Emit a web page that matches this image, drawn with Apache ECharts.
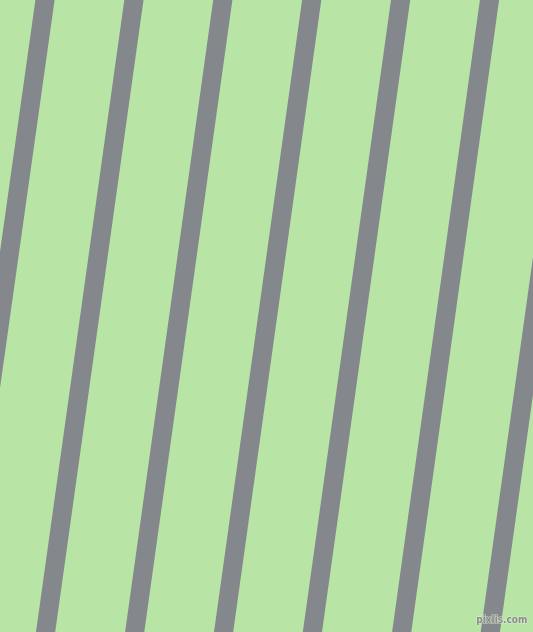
<!DOCTYPE html>
<html>
<head>
<meta charset="utf-8">
<style>
html,body{margin:0;padding:0;background:#b8e4a6;}
#chart{width:533px;height:632px;}
</style>
<script src="https://cdn.jsdelivr.net/npm/echarts@6/dist/echarts.min.js"></script>
</head>
<body>
<div id="chart"></div>
<script>
// Stripe centre x positions read at the top edge (y = 0) and bottom edge (y = 632)
var stripeTopX = [-43.9, 45.0, 133.9, 222.8, 311.7, 400.6, 489.5, 578.4];
var stripeBottomX = [-132.8, -43.9, 45.6, 134.7, 223.6, 312.4, 401.7, 490.3];
var imageHeight = 632;
var imageWidth = 533;

var chart = echarts.init(document.getElementById('chart'), null, {renderer: 'canvas'});
var ext = 40;
var series = stripeTopX.map(function (tx, i) {
  var bx = stripeBottomX[i];
  var slope = (bx - tx) / imageHeight;
  return {
    type: 'line',
    silent: true,
    symbol: 'none',
    clip: true,
    animation: false,
    lineStyle: {color: '#84878b', width: 19, cap: 'butt'},
    data: [[tx - slope * ext, -ext], [bx + slope * ext, imageHeight + ext]]
  };
});

chart.setOption({
  backgroundColor: '#b8e4a6',
  animation: false,
  grid: {left: 0, right: 0, top: 0, bottom: 0},
  xAxis: {type: 'value', min: 0, max: imageWidth, show: false},
  yAxis: {type: 'value', min: 0, max: imageHeight, inverse: true, show: false},
  graphic: [{
    type: 'text',
    right: 5,
    bottom: 6,
    z: 100,
    style: {
      text: 'pixlis.com',
      font: 'bold 10px "DejaVu Sans Condensed", "DejaVu Sans", sans-serif',
      fill: '#8a8e8a',
      stroke: 'rgba(225,235,220,0.8)',
      lineWidth: 1.2
    }
  }],
  series: series
});
</script>
</body>
</html>
